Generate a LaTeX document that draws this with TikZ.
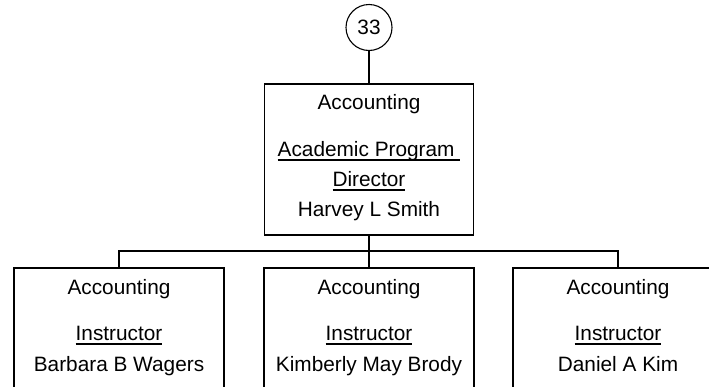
\documentclass[tikz,border=0pt]{standalone}
\usepackage{fontspec}
\setmainfont{Liberation Sans}
\usetikzlibrary{positioning}
\newcommand\ulin[1]{\setbox0\hbox{#1}\rlap{\rule[-4.6pt]{\wd0}{1.6pt}}\box0}

\begin{document}
\begin{tikzpicture}[x=1pt,y=-1pt,
 unit/.style={draw,line width=1.9pt,minimum width=209pt,anchor=north,inner sep=0pt},
 txt/.style={anchor=base,inner sep=0pt,font=\fontsize{20.8}{25}\selectfont},
 wire/.style={draw,line width=1.9pt}]
\clip (0,0) rectangle (709,386);
\node[circle,draw,line width=1.1pt,minimum size=46pt,inner sep=0pt,
 font=\fontsize{20.8}{25}\selectfont] (num) at (369,27.5) {33};
\node[unit,minimum height=151pt] (dir) at (369,82.7) {};
\node[txt] (dirdept) at ([yshift=-27pt]dir.north) {Accounting};
\node[txt] (dirrole) at ([yshift=-73.5pt]dir.north) {\ulin{Academic Program\ }};
\node[txt] (dirrolex) at ([yshift=-103.7pt]dir.north) {\ulin{Director}};
\node[txt] (dirname) at ([yshift=-134pt]dir.north) {Harvey L Smith};
\foreach \id/\x/\who in {lft/119/Barbara B Wagers,mid/369/Kimberly May Brody,rgt/618/Daniel A Kim}{
 \node[unit,minimum width=210pt,minimum height=170pt] (\id) at (\x,267.3) {};
 \node[txt] (\id dept) at ([yshift=-27pt]\id.north) {Accounting};
 \node[txt] (\id role) at ([yshift=-73pt]\id.north) {\ulin{Instructor}};
 \node[txt] (\id name) at ([yshift=-104pt]\id.north) {\who};
}
\coordinate (bar) at (dir.south |- 0,251);
\draw[wire] (num) -- (dir);
\draw[wire] (dir.south) -- (mid.north);
\draw[wire] (lft.north) |- (bar) -| (rgt.north);
\end{tikzpicture}
\end{document}
